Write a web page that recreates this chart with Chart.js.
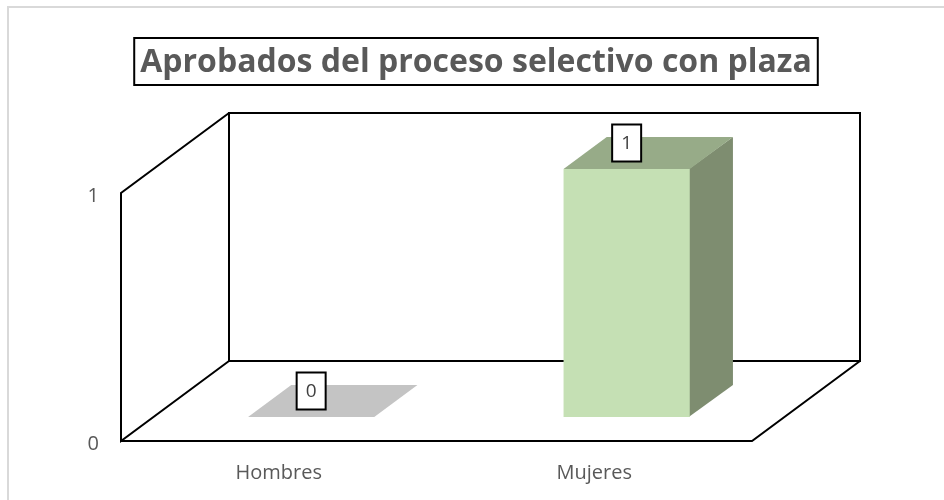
<!DOCTYPE html>
<html>
<head>
<meta charset="utf-8">
<script src="https://cdn.jsdelivr.net/npm/chart.js@4"></script>
<style>
  html, body { margin: 0; padding: 0; background: #fff; }
  #wrap { width: 944px; height: 500px; }
</style>
</head>
<body>
<div id="wrap"><canvas id="chart" width="944" height="500"></canvas></div>
<script>
// datos
const categories = ["Hombres", "Mujeres"];
const aprobados = [0, 1];
const yTicks = [0, 1];
const titleText = "Aprobados del proceso selectivo con plaza";

/* ================= 3D look ================= */
const DEPTH = { x: 108, y: -80 };   // profundidad de la caja
const BAR_FRONT = 0.3;              // la barra empieza al 30% de la profundidad
const BAR_DEPTH = 0.4;
const faceColors = [
  { front: "#c4c4c4", top: "#c4c4c4", side: "#a6a6a6" },
  { front: "#c5e0b4", top: "#97ab88", side: "#7e8d70" }
];
const FONT = "'Open Sans', 'Liberation Sans', sans-serif";
const BORDER = { x: 8, y: 7 };      // borde gris exterior

const box3d = {
  id: "box3d",
  beforeDatasetsDraw(chart) {
    const ctx = chart.ctx;
    const a = chart.chartArea;
    const y = chart.scales.y;
    const top = y.getPixelForValue(1);
    const bot = y.getPixelForValue(0);

    ctx.save();
    // borde gris del fondo
    ctx.strokeStyle = "#d9d9d9";
    ctx.lineWidth = 2;
    ctx.beginPath();
    ctx.moveTo(BORDER.x, chart.height);
    ctx.lineTo(BORDER.x, BORDER.y);
    ctx.lineTo(chart.width, BORDER.y);
    ctx.stroke();

    ctx.strokeStyle = "#000";
    ctx.lineWidth = 2;
    // pared del fondo
    ctx.strokeRect(a.left + DEPTH.x, top + DEPTH.y, a.right - a.left, bot - top);
    // pared izquierda
    ctx.beginPath();
    ctx.moveTo(a.left + DEPTH.x, top + DEPTH.y);
    ctx.lineTo(a.left, top);
    ctx.lineTo(a.left, bot);
    ctx.lineTo(a.left + DEPTH.x, bot + DEPTH.y);
    ctx.stroke();
    // piso
    ctx.beginPath();
    ctx.moveTo(a.left, bot);
    ctx.lineTo(a.right, bot);
    ctx.lineTo(a.right + DEPTH.x, bot + DEPTH.y);
    ctx.stroke();
    ctx.restore();
  },
  afterDatasetsDraw(chart) {
    const ctx = chart.ctx;
    const meta = chart.getDatasetMeta(0);
    ctx.save();
    meta.data.forEach((bar, i) => {
      const c = faceColors[i];
      const ox = DEPTH.x * BAR_FRONT, oy = DEPTH.y * BAR_FRONT;
      const dx = DEPTH.x * BAR_DEPTH, dy = DEPTH.y * BAR_DEPTH;
      const l = bar.x - bar.width / 2 + ox;
      const r = bar.x + bar.width / 2 + ox;
      const t = bar.y + oy;
      const b = bar.base + oy;

      if (b - t > 0.5) {
        ctx.fillStyle = c.side;
        ctx.beginPath();
        ctx.moveTo(r - 1, t);
        ctx.lineTo(r + dx, t + dy);
        ctx.lineTo(r + dx, b + dy);
        ctx.lineTo(r - 1, b);
        ctx.closePath();
        ctx.fill();
        ctx.fillStyle = c.front;
        ctx.fillRect(l, t, r - l, b - t);
      }
      ctx.fillStyle = c.top;
      ctx.beginPath();
      ctx.moveTo(l, t);
      ctx.lineTo(r, t);
      ctx.lineTo(r + dx, t + dy);
      ctx.lineTo(l + dx, t + dy);
      ctx.closePath();
      ctx.fill();

      // etiqueta de valor
      const cx = (l + r) / 2;
      const cy = t - 26;
      ctx.fillStyle = "#fff";
      ctx.fillRect(cx - 14.5, cy - 18.5, 29, 37);
      ctx.strokeStyle = "#000";
      ctx.lineWidth = 2;
      ctx.strokeRect(cx - 14.5, cy - 18.5, 29, 37);
      ctx.fillStyle = "#404040";
      ctx.font = "19px " + FONT;
      ctx.textAlign = "center";
      ctx.textBaseline = "middle";
      ctx.fillText(String(aprobados[i]), cx, cy + 1);
    });
    ctx.restore();
  },
  afterDraw(chart) {
    // titulo con recuadro
    const ctx = chart.ctx;
    ctx.save();
    ctx.font = "bold 32px " + FONT;
    const w = ctx.measureText(titleText).width;
    const cx = (BORDER.x + chart.width) / 2;
    const cy = 61.5;
    ctx.fillStyle = "#595959";
    ctx.textAlign = "center";
    ctx.textBaseline = "middle";
    ctx.fillText(titleText, cx, cy + 1);
    ctx.strokeStyle = "#000";
    ctx.lineWidth = 2;
    ctx.strokeRect(cx - w / 2 - 6, cy - 23.5, w + 12, 47);
    ctx.restore();
  }
};

new Chart(document.getElementById("chart"), {
  type: "bar",
  data: {
    labels: categories,
    datasets: [{
      label: "Aprobados",
      data: aprobados,
      backgroundColor: "rgba(0,0,0,0)",
      borderWidth: 0,
      barPercentage: 0.4,
      categoryPercentage: 1
    }]
  },
  options: {
    responsive: false,
    animation: false,
    devicePixelRatio: 1,
    layout: { padding: { top: 193, right: 192, left: 0, bottom: 0 } },
    plugins: {
      legend: { display: false },
      tooltip: { enabled: false },
      title: { display: false }
    },
    scales: {
      x: {
        grid: { display: false, drawTicks: false },
        border: { display: false },
        ticks: { color: "#595959", font: { family: FONT, size: 20 }, padding: 20 },
        afterFit(s) { s.height = 59; }
      },
      y: {
        min: 0,
        max: 1,
        grid: { display: false, drawTicks: false },
        border: { display: false },
        afterBuildTicks(s) { s.ticks = yTicks.map(v => ({ value: v })); },
        ticks: { color: "#595959", font: { family: FONT, size: 20 }, padding: 22, labelOffset: 3 },
        afterFit(s) { s.width = 121; }
      }
    }
  },
  plugins: [box3d]
});
</script>
</body>
</html>
